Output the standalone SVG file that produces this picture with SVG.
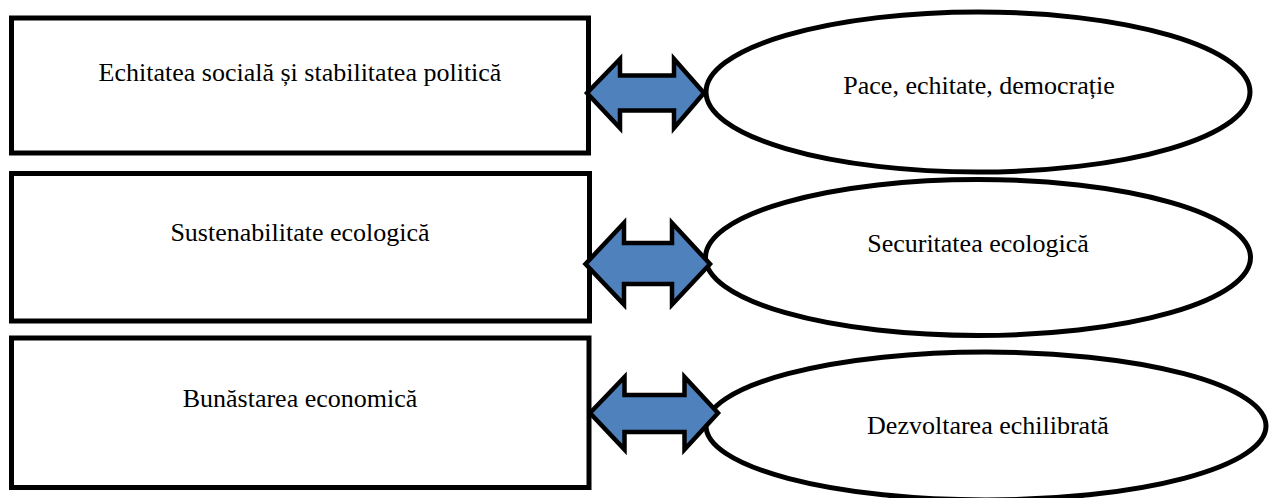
<svg xmlns="http://www.w3.org/2000/svg" width="1269" height="498" viewBox="0 0 1269 498">
  <style>
    .box { fill: #ffffff; stroke: #000000; stroke-width: 5; }
    .oval { fill: #ffffff; stroke: #000000; stroke-width: 5; }
    .lbl { font-family: "Liberation Serif", "Times New Roman", serif; font-size: 26px; fill: #000000; text-anchor: middle; }
    .arrow { fill: #4F81BD; stroke: #000000; stroke-width: 4.5; stroke-linejoin: miter; stroke-miterlimit: 10; }
  </style>
  <rect width="1269" height="498" fill="#ffffff"/>

  <g id="box1">
    <rect class="box" x="11.5" y="18" width="577" height="135"/>
    <text class="lbl" x="300" y="81">Echitatea socială și stabilitatea politică</text>
  </g>
  <g id="box2">
    <rect class="box" x="11.5" y="173.5" width="578" height="147.5"/>
    <text class="lbl" x="300" y="241">Sustenabilitate ecologică</text>
  </g>
  <g id="box3">
    <rect class="box" x="11.5" y="338" width="577.5" height="149.5"/>
    <text class="lbl" x="300" y="407">Bunăstarea economică</text>
  </g>

  <g id="oval1">
    <ellipse class="oval" cx="978" cy="92" rx="272" ry="80"/>
    <text class="lbl" x="979" y="94">Pace, echitate, democrație</text>
  </g>
  <g id="oval2">
    <ellipse class="oval" cx="978" cy="257.5" rx="272.5" ry="78"/>
    <text class="lbl" x="978" y="252">Securitatea ecologică</text>
  </g>
  <g id="oval3">
    <ellipse class="oval" cx="986" cy="426" rx="280" ry="74"/>
    <text class="lbl" x="988" y="434">Dezvoltarea echilibrată</text>
  </g>

  <g id="connectors">
    <polygon class="arrow" points="587,93 620,59 620,75.5 674,75.5 674,59 704,93 674,128 674,110.5 620,110.5 620,128"/>
    <polygon class="arrow" points="585.5,264 624,223 624,243 672,243 672,223 710,264 672,304.5 672,284 624,284 624,304.5"/>
    <polygon class="arrow" points="590,413 624.5,377 624.5,395 684.5,395 684.5,377 718,413 684.5,449.5 684.5,432 624.5,432 624.5,449.5"/>
  </g>
</svg>
